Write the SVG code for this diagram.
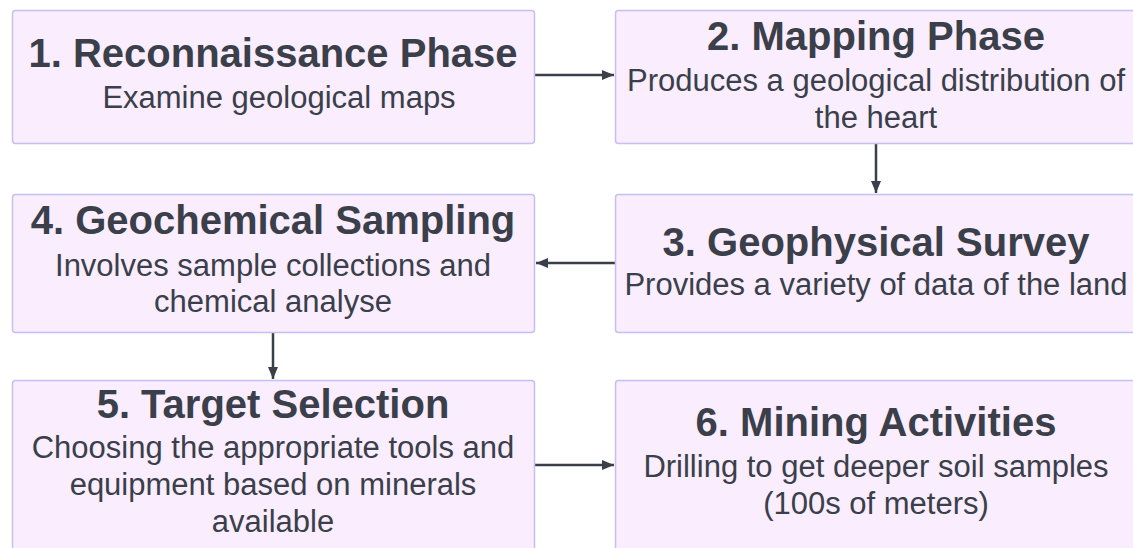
<svg xmlns="http://www.w3.org/2000/svg" width="1133" height="548" viewBox="0 0 1133 548">
  <style>
    .box { fill: #f9edfe; stroke: #c4c0f1; stroke-width: 1.5; }
    .title { font-family: "Liberation Sans", Arial, sans-serif; font-weight: bold; font-size: 40px; fill: #3a3f4a; text-anchor: middle; }
    .sub { font-family: "Liberation Sans", Arial, sans-serif; font-size: 31px; fill: #3a3f4a; text-anchor: middle; }
    .edge { fill: none; stroke: #3a3f4a; stroke-width: 2.5; }
  </style>
  <defs>
    <marker id="arrow" viewBox="0 0 12 10" refX="12" refY="5" markerWidth="12" markerHeight="10" markerUnits="userSpaceOnUse" orient="auto">
      <path d="M0,0 L12,5 L0,10 Z" fill="#3a3f4a"/>
    </marker>
  </defs>
  <rect width="1133" height="548" fill="#ffffff"/>

  <g id="connectors">
    <line class="edge" x1="535" y1="75" x2="614" y2="75" marker-end="url(#arrow)"/>
    <line class="edge" x1="876" y1="144" x2="876" y2="193" marker-end="url(#arrow)"/>
    <line class="edge" x1="615" y1="263" x2="536" y2="263" marker-end="url(#arrow)"/>
    <line class="edge" x1="273" y1="333" x2="273" y2="379" marker-end="url(#arrow)"/>
    <line class="edge" x1="535" y1="465" x2="614" y2="465" marker-end="url(#arrow)"/>
  </g>

  <g id="node1">
    <rect class="box" x="12.5" y="10.5" width="522" height="133" rx="3"/>
    <text class="title" x="273" y="67">1. Reconnaissance Phase</text>
    <text class="sub" x="279" y="108">Examine geological maps</text>
  </g>

  <g id="node2">
    <rect class="box" x="615.5" y="10.5" width="522" height="133" rx="3"/>
    <text class="title" x="876" y="50">2. Mapping Phase</text>
    <text class="sub" x="876" y="91">Produces a geological distribution of</text>
    <text class="sub" x="876" y="128">the heart</text>
  </g>

  <g id="node3">
    <rect class="box" x="615.5" y="194.5" width="522" height="138" rx="3"/>
    <text class="title" x="876" y="256">3. Geophysical Survey</text>
    <text class="sub" x="876" y="295">Provides a variety of data of the land</text>
  </g>

  <g id="node4">
    <rect class="box" x="12.5" y="194.5" width="522" height="138" rx="3"/>
    <text class="title" x="273" y="234">4. Geochemical Sampling</text>
    <text class="sub" x="273" y="276">Involves sample collections and</text>
    <text class="sub" x="273" y="312">chemical analyse</text>
  </g>

  <g id="node5">
    <rect class="box" x="12.5" y="380.5" width="522" height="190" rx="3"/>
    <text class="title" x="273" y="418">5. Target Selection</text>
    <text class="sub" x="273" y="458">Choosing the appropriate tools and</text>
    <text class="sub" x="273" y="495">equipment based on minerals</text>
    <text class="sub" x="273" y="532">available</text>
  </g>

  <g id="node6">
    <rect class="box" x="615.5" y="380.5" width="522" height="190" rx="3"/>
    <text class="title" x="876" y="436">6. Mining Activities</text>
    <text class="sub" x="876" y="477">Drilling to get deeper soil samples</text>
    <text class="sub" x="876" y="514">(100s of meters)</text>
  </g>
</svg>
